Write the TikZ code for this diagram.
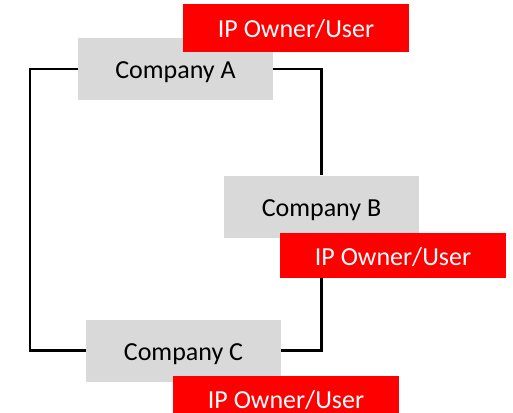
\documentclass[tikz,border=0pt]{standalone}
\usepackage{fontspec}
\setmainfont{Carlito}
\usetikzlibrary{backgrounds}
\definecolor{boxgray}{HTML}{D9D9D9}
\definecolor{ipred}{HTML}{FF0000}
\begin{document}
\begin{tikzpicture}[x=1pt,y=-1pt,
  company/.style={fill=boxgray, draw=none, inner sep=0pt, minimum width=195pt,
    minimum height=62pt, text height=19pt, text depth=0pt,
    font=\fontsize{26}{30}\selectfont},
  iptag/.style={fill=ipred, draw=none, inner sep=0pt, minimum width=226pt,
    minimum height=46pt, text=white, text height=19pt, text depth=0pt,
    font=\fontsize{26}{30}\selectfont},
  link/.style={draw=black, line width=2.2pt}]
  \useasboundingbox (0,0) rectangle (513,412);
  \clip (0,0) rectangle (513,412);

  % company boxes
  \node[company] (A) at (175.5,69) {Company A};
  \node[company] (B) at (321.5,206.5) {Company B};
  \node[company] (C) at (183.5,350.5) {Company C};

  % ownership tags, laid over the boxes
  \node[iptag, minimum height=48pt] (tagA) at (296,28) {IP Owner/User};
  \node[iptag, minimum height=45pt] (tagB) at (393,255.5) {IP Owner/User};
  \node[iptag, minimum height=45pt] (tagC) at (286,398.5) {IP Owner/User};

  % ring connecting the three companies, behind the boxes
  \begin{scope}[on background layer]
    \coordinate (leftturn) at ([xshift=-48pt]A.west);
    \draw[link] (A.west) -- (leftturn) |- (C.west);
    \draw[link] (A.east) -| (B.north);
    \draw[link] (B.south) |- (C.east);
  \end{scope}
\end{tikzpicture}
\end{document}
